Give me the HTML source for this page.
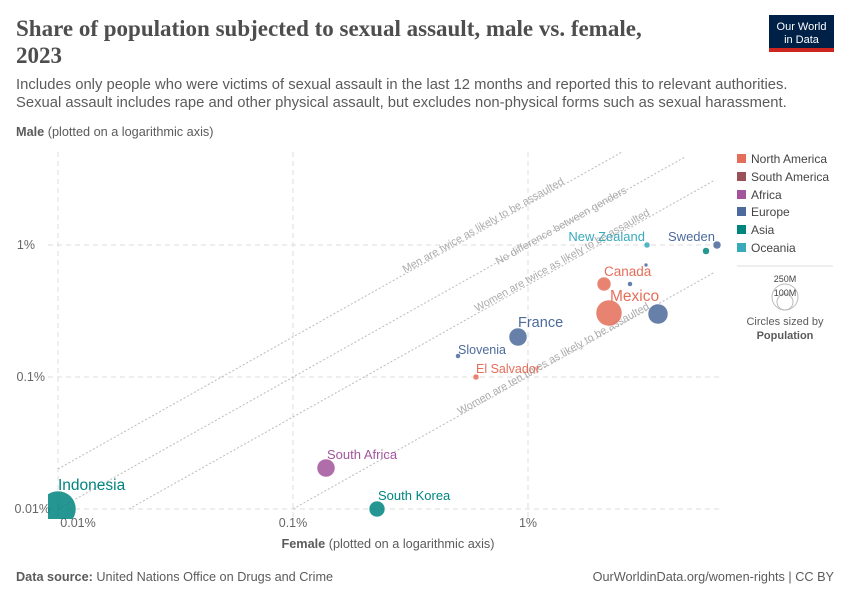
<!DOCTYPE html>
<html><head><meta charset="utf-8"><style>
body{margin:0;background:#fff;font-family:"Liberation Sans",sans-serif;}
</style></head><body>
<svg width="850" height="600" xmlns="http://www.w3.org/2000/svg" font-family="Liberation Sans, sans-serif">
<rect width="850" height="600" fill="#fff"/>
<text x="16" y="36" font-family="Liberation Serif, serif" font-size="23" font-weight="bold" fill="#4e4e4e">Share of population subjected to sexual assault, male vs. female,</text>
<text x="16" y="63" font-family="Liberation Serif, serif" font-size="23" font-weight="bold" fill="#4e4e4e">2023</text>
<rect x="769" y="15" width="65" height="37" fill="#002147"/>
<rect x="769" y="48" width="65" height="4" fill="#ce261e"/>
<text x="801.5" y="30" font-size="11" fill="#fff" text-anchor="middle">Our World</text>
<text x="801.5" y="43" font-size="11" fill="#fff" text-anchor="middle">in Data</text>
<text x="16" y="89" font-size="14.8" fill="#5b5b5b">Includes only people who were victims of sexual assault in the last 12 months and reported this to relevant authorities.</text>
<text x="16" y="107" font-size="14.8" fill="#5b5b5b">Sexual assault includes rape and other physical assault, but excludes non-physical forms such as sexual harassment.</text>
<text x="16" y="136" font-size="12.7" fill="#5b5b5b"><tspan font-weight="bold">Male</tspan> (plotted on a logarithmic axis)</text>
<g stroke="#ddd" stroke-dasharray="5,4" stroke-width="1">
<line x1="48" y1="245" x2="720" y2="245"/><line x1="48" y1="377" x2="720" y2="377"/><line x1="48" y1="509" x2="720" y2="509"/>
<line x1="58" y1="152" x2="58" y2="519"/><line x1="293" y1="152" x2="293" y2="519"/><line x1="528" y1="152" x2="528" y2="519"/>
</g>
<g stroke="#bbb" stroke-dasharray="2,2" stroke-width="1">
<line x1="58" y1="469" x2="622" y2="152"/><line x1="58" y1="509" x2="685" y2="157"/><line x1="129" y1="509" x2="715" y2="180"/><line x1="293" y1="509" x2="715" y2="272"/>
</g>
<g font-size="10.7" fill="#aaa">
<text transform="translate(405,273) rotate(-29.3)">Men are twice as likely to be assaulted</text>
<text transform="translate(498,265) rotate(-29.3)">No difference between genders</text>
<text transform="translate(477,312) rotate(-29.3)">Women are twice as likely to be assaulted</text>
<text transform="translate(460,415) rotate(-29.3)">Women are ten times as likely to be assaulted</text>
</g>
<g font-size="12.5" fill="#666">
<text x="35" y="249" text-anchor="end">1%</text><text x="45" y="381" text-anchor="end">0.1%</text><text x="50" y="513" text-anchor="end">0.01%</text>
<text x="78" y="527" text-anchor="middle">0.01%</text><text x="293" y="527" text-anchor="middle">0.1%</text><text x="528" y="527" text-anchor="middle">1%</text>
</g>
<text x="388" y="548" font-size="12.7" fill="#5b5b5b" text-anchor="middle"><tspan font-weight="bold">Female</tspan> (plotted on a logarithmic axis)</text>
<defs><clipPath id="c"><rect x="48" y="140" width="680" height="379"/></clipPath></defs>
<g clip-path="url(#c)" stroke="#fff" stroke-width="0.5" opacity="0.85">
<circle cx="58" cy="509" r="18" fill="#00847e"/>
<circle cx="326" cy="468" r="9" fill="#a2559c"/>
<circle cx="377" cy="509" r="8" fill="#00847e"/>
<circle cx="476" cy="377" r="3" fill="#e56e5a"/>
<circle cx="458" cy="356" r="2.5" fill="#4c6a9c"/>
<circle cx="518" cy="337" r="9" fill="#4c6a9c"/>
<circle cx="604" cy="284" r="7" fill="#e56e5a"/>
<circle cx="609" cy="313" r="13" fill="#e56e5a"/>
<circle cx="658" cy="314" r="10" fill="#4c6a9c"/>
<circle cx="630" cy="284" r="2.5" fill="#4c6a9c"/>
<circle cx="646" cy="265" r="2" fill="#4c6a9c"/>
<circle cx="647" cy="245" r="3" fill="#38aaba"/>
<circle cx="706" cy="251" r="3.5" fill="#00847e"/>
<circle cx="717" cy="245" r="4" fill="#4c6a9c"/>
</g>
<g font-size="13">
<text x="58" y="490" fill="#00847e" font-size="15.5">Indonesia</text>
<text x="327" y="459" fill="#a2559c">South Africa</text>
<text x="378" y="500" fill="#00847e">South Korea</text>
<text x="476" y="373" fill="#e56e5a" font-size="12.5">El Salvador</text>
<text x="458" y="354" fill="#4c6a9c" font-size="12.5">Slovenia</text>
<text x="518" y="327" fill="#4c6a9c" font-size="14.5">France</text>
<text x="604" y="276" fill="#e56e5a" font-size="13.5">Canada</text>
<text x="610" y="301" fill="#e56e5a" font-size="15.5">Mexico</text>
<text x="645" y="241" fill="#38aaba" text-anchor="end">New Zealand</text>
<text x="715" y="241" fill="#4c6a9c" text-anchor="end">Sweden</text>
</g>
<g font-size="12" fill="#444">
<rect x="737" y="154" width="9" height="9" fill="#e56e5a"/><text x="751" y="163">North America</text>
<rect x="737" y="172" width="9" height="9" fill="#9a5157"/><text x="751" y="181">South America</text>
<rect x="737" y="190" width="9" height="9" fill="#a2559c"/><text x="751" y="199">Africa</text>
<rect x="737" y="207" width="9" height="9" fill="#4c6a9c"/><text x="751" y="216">Europe</text>
<rect x="737" y="225" width="9" height="9" fill="#00847e"/><text x="751" y="234">Asia</text>
<rect x="737" y="243" width="9" height="9" fill="#38aaba"/><text x="751" y="252">Oceania</text>
</g>
<line x1="737" y1="266" x2="833" y2="266" stroke="#ddd"/>
<circle cx="785" cy="297" r="13" fill="none" stroke="#bbb"/>
<circle cx="785" cy="302" r="8" fill="none" stroke="#bbb"/>
<text x="785" y="282" font-size="9" fill="#444" text-anchor="middle">250M</text>
<text x="785" y="296" font-size="9" fill="#444" text-anchor="middle">100M</text>
<text x="785" y="325" font-size="11" fill="#5b5b5b" text-anchor="middle">Circles sized by</text>
<text x="785" y="339" font-size="11" fill="#5b5b5b" text-anchor="middle" font-weight="bold">Population</text>
<text x="16" y="581" font-size="12.7" fill="#5b5b5b"><tspan font-weight="bold">Data source:</tspan> United Nations Office on Drugs and Crime</text>
<text x="834" y="581" font-size="12.7" fill="#5b5b5b" text-anchor="end">OurWorldinData.org/women-rights | CC BY</text>
</svg>
</body></html>
